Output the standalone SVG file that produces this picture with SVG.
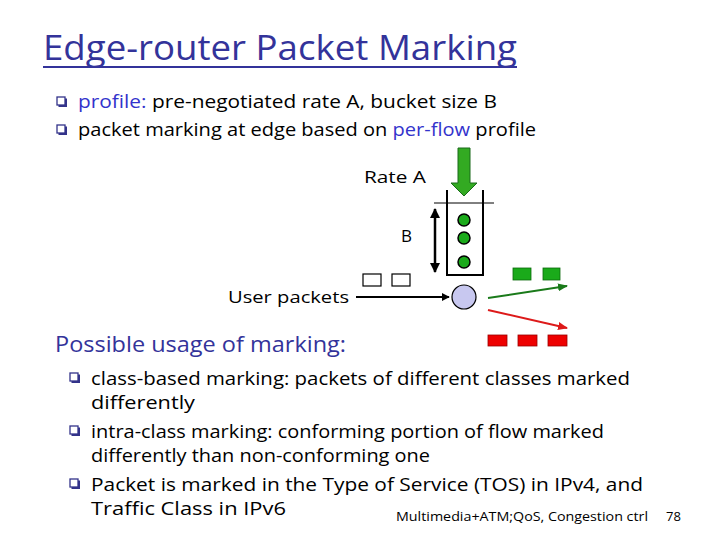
<svg xmlns="http://www.w3.org/2000/svg" width="720" height="540" viewBox="0 0 720 540">
<style>
text{font-family:"Open Sans","DejaVu Sans",sans-serif;fill:#000}
.title{font-size:34px;fill:#33339a}
.blue{fill:#3333cc}
.b1{font-size:18px}
.b2{font-size:19px}
.lbl{font-size:17px}
.foot{font-size:13px}
.bul{fill:#fff;stroke:#33338a;stroke-width:1.3}
.bsh{fill:none;stroke:#33338a;stroke-width:2}
.wpk{fill:#fff;stroke:#000;stroke-width:1.2}
.gpk{fill:#1aaa1a;stroke:#0a6a0a;stroke-width:0.8}
.rpk{fill:#ee0000;stroke:#990000;stroke-width:0.8}
.ball{fill:#1aaa1a;stroke:#000;stroke-width:1.5}
</style>
<defs>
<marker id="ah" viewBox="0 0 10 10" refX="9" refY="5" markerWidth="4" markerHeight="4" orient="auto-start-reverse"><path d="M0,0L10,5L0,10z" fill="#000"/></marker>
<marker id="ahg" viewBox="0 0 10 10" refX="9" refY="5" markerWidth="5" markerHeight="5" orient="auto"><path d="M0,1L10,5L0,9z" fill="#1a7a1a"/></marker>
<marker id="ahr" viewBox="0 0 10 10" refX="9" refY="5" markerWidth="5" markerHeight="5" orient="auto"><path d="M0,1L10,5L0,9z" fill="#dd1a1a"/></marker>
<g id="bullet"><rect class="bul" x="0" y="0" width="8" height="8"/><path class="bsh" d="M9,1.5V9H1.5"/></g>
</defs>

<g id="title">
<text class="title" x="43" y="60" textLength="474" lengthAdjust="spacingAndGlyphs">Edge-router Packet Marking</text>
<line x1="43" y1="67" x2="517" y2="67" stroke="#33339a" stroke-width="2"/>
</g>

<g id="bullets-top">
<use href="#bullet" x="57" y="97"/>
<text class="b1" x="78" y="108" textLength="419" lengthAdjust="spacingAndGlyphs"><tspan class="blue">profile:</tspan> pre-negotiated rate A, bucket size B</text>
<use href="#bullet" x="57" y="125"/>
<text class="b1" x="78" y="136" textLength="458" lengthAdjust="spacingAndGlyphs">packet marking at edge based on <tspan class="blue">per-flow</tspan> profile</text>
</g>

<g id="rate-arrow">
<path d="M458,148 H470 V183 H477 L464,196 L451,183 H458 Z" fill="#33aa22" stroke="#1a6a1a" stroke-width="1"/>
<text class="lbl" x="364" y="183" textLength="62" lengthAdjust="spacingAndGlyphs">Rate A</text>
</g>

<g id="bucket">
<line x1="434" y1="203" x2="494" y2="203" stroke="#000" stroke-width="1"/>
<path d="M447,190 V275 H483 V190" fill="none" stroke="#000" stroke-width="2"/>
<circle class="ball" cx="464" cy="220" r="6"/>
<circle class="ball" cx="464" cy="238" r="6"/>
<circle class="ball" cx="464" cy="262" r="6"/>
</g>

<g id="size-B">
<line x1="435" y1="209" x2="435" y2="272" stroke="#000" stroke-width="2.5" marker-start="url(#ah)" marker-end="url(#ah)"/>
<text class="lbl" x="401" y="242">B</text>
</g>

<g id="user-packets">
<text class="lbl" x="228" y="303" textLength="121" lengthAdjust="spacingAndGlyphs">User packets</text>
<rect class="wpk" x="363" y="274" width="18" height="12"/>
<rect class="wpk" x="392" y="274" width="18" height="12"/>
</g>

<g id="router">
<circle cx="464" cy="297" r="12" fill="#c8c8f0" stroke="#000" stroke-width="1.2"/>
</g>

<g id="connectors">
<line x1="356" y1="297" x2="449" y2="297" stroke="#000" stroke-width="2" marker-end="url(#ah)"/>
<line x1="488" y1="298" x2="567" y2="286" stroke="#1a7a1a" stroke-width="2" marker-end="url(#ahg)"/>
<line x1="488" y1="310" x2="567" y2="328" stroke="#dd1a1a" stroke-width="2" marker-end="url(#ahr)"/>
</g>

<g id="green-packets">
<rect class="gpk" x="513" y="268" width="18" height="12"/>
<rect class="gpk" x="543" y="268" width="17" height="12"/>
</g>

<g id="red-packets">
<rect class="rpk" x="488" y="335" width="19" height="11"/>
<rect class="rpk" x="518" y="335" width="19" height="11"/>
<rect class="rpk" x="548" y="335" width="19" height="11"/>
</g>

<g id="usage">
<text class="title" style="font-size:22px" x="55" y="352" textLength="291" lengthAdjust="spacingAndGlyphs">Possible usage of marking:</text>
<use href="#bullet" x="70" y="373"/>
<text class="b2" x="91" y="385" textLength="539" lengthAdjust="spacingAndGlyphs">class-based marking: packets of different classes marked</text>
<text class="b2" x="91" y="409" textLength="104" lengthAdjust="spacingAndGlyphs">differently</text>
<use href="#bullet" x="70" y="426"/>
<text class="b2" x="91" y="438" textLength="513" lengthAdjust="spacingAndGlyphs">intra-class marking: conforming portion of flow marked</text>
<text class="b2" x="91" y="462" textLength="339" lengthAdjust="spacingAndGlyphs">differently than non-conforming one</text>
<use href="#bullet" x="70" y="479"/>
<text class="b2" x="91" y="491" textLength="552" lengthAdjust="spacingAndGlyphs">Packet is marked in the Type of Service (TOS) in IPv4, and</text>
<text class="b2" x="91" y="515" textLength="195" lengthAdjust="spacingAndGlyphs">Traffic Class in IPv6</text>
</g>

<g id="footer">
<text class="foot" x="396" y="521" textLength="252" lengthAdjust="spacingAndGlyphs">Multimedia+ATM;QoS, Congestion ctrl</text>
<text class="foot" x="666" y="521">78</text>
</g>
</svg>
